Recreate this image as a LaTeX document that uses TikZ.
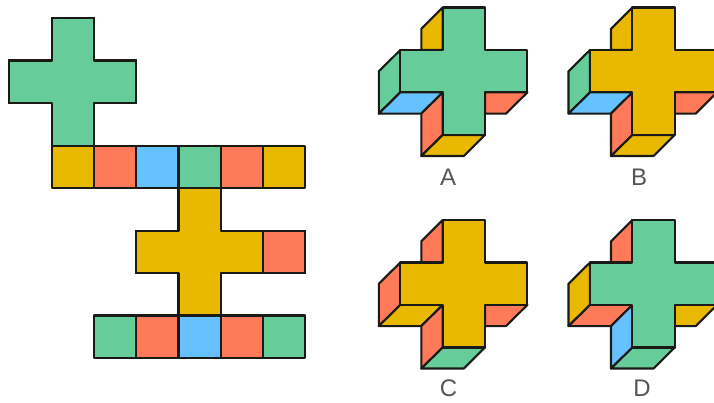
\documentclass[tikz,border=0pt]{standalone}
\usepackage{fontspec}
\setmainfont{Liberation Sans}
\definecolor{cgreen}{HTML}{66CC99}
\definecolor{cred}{HTML}{FF7A59}
\definecolor{cblue}{HTML}{66C2FF}
\definecolor{cyellow}{HTML}{E9B800}
\definecolor{cline}{HTML}{1A1A16}
\definecolor{ctext}{HTML}{555555}
\tikzset{
  face/.style={draw=cline,line width=2.1pt,line join=round,fill=#1},
  optlabel/.style={text=ctext,font=\fontsize{24}{24}\selectfont,inner sep=0pt,anchor=center}
}
% #1 x shift, #2 y shift, #3 front, #4 upper arm side, #5 left side, #6 left under, #7 lower left side, #8 bottom, #9 right under
\newcommand{\crosssolid}[9]{%
  \begin{scope}[shift={(#1,#2)}]
    \path[face=#4] (442.7,7.5) -- (421.3,28.8) -- (421.3,50) -- (442.7,50) -- cycle;
    \path[face=#5] (400.3,50) -- (378.8,71.3) -- (378.8,113.6) -- (400.3,92.4) -- cycle;
    \path[face=#6] (400.3,92.4) -- (442.7,92.4) -- (421.3,113.6) -- (378.8,113.6) -- cycle;
    \path[face=#7] (442.7,92.4) -- (442.7,135) -- (421.3,156) -- (421.3,113.6) -- cycle;
    \path[face=#8] (442.7,135) -- (485,135) -- (463.8,156) -- (421.3,156) -- cycle;
    \path[face=#9] (485,92.4) -- (527.4,92.4) -- (506,113.6) -- (485,113.6) -- cycle;
    \path[face=#3] (442.7,7.5) -- (485,7.5) -- (485,50) -- (527.4,50) -- (527.4,92.4) -- (485,92.4) -- (485,135) -- (442.7,135) -- (442.7,92.4) -- (400.3,92.4) -- (400.3,50) -- (442.7,50) -- cycle;
  \end{scope}}
\newcommand{\cellbox}[3]{\path[face=#3] (#1,#2) rectangle ++(42.25,42.4);}
\begin{document}
\begin{tikzpicture}[x=1pt,y=-1pt]
  \useasboundingbox (0,0) rectangle (714,403);
  \clip (0,0) rectangle (714,403);
  \fill[white] (0,0) rectangle (714,403);
  % net: upper row
  \foreach \x/\c in {51.7/cyellow,93.95/cred,136.2/cblue,178.45/cgreen,220.7/cred,262.95/cyellow}
    \cellbox{\x}{145.6}{\c}
  % net: upper cross
  \path[face=cgreen] (51.7,18) -- (93.95,18) -- (93.95,60.5) -- (136.2,60.5) -- (136.2,103) -- (93.95,103) -- (93.95,145.6) -- (51.7,145.6) -- (51.7,103) -- (9,103) -- (9,60.5) -- (51.7,60.5) -- cycle;
  % net: lower row
  \foreach \x/\c in {93.95/cgreen,136.2/cred,178.45/cblue,220.7/cred,262.95/cgreen}
    \cellbox{\x}{315.5}{\c}
  % net: lower cross and its square
  \cellbox{262.95}{230.7}{cred}
  \path[face=cyellow] (178.45,188) -- (220.7,188) -- (220.7,230.7) -- (262.95,230.7) -- (262.95,273.1) -- (220.7,273.1) -- (220.7,315.5) -- (178.45,315.5) -- (178.45,273.1) -- (136.2,273.1) -- (136.2,230.7) -- (178.45,230.7) -- cycle;
  % options
  \crosssolid{0}{0}{cgreen}{cyellow}{cgreen}{cblue}{cred}{cyellow}{cred}
  \crosssolid{189.7}{0}{cyellow}{cyellow}{cgreen}{cblue}{cred}{cyellow}{cred}
  \crosssolid{0}{212.5}{cyellow}{cred}{cred}{cyellow}{cred}{cgreen}{cred}
  \crosssolid{189.7}{212.5}{cgreen}{cred}{cyellow}{cred}{cblue}{cgreen}{cyellow}
  \node[optlabel] (labA) at (448,177) {A};
  \node[optlabel] (labB) at (639,177) {B};
  \node[optlabel] (labC) at (448.5,388.5) {C};
  \node[optlabel] (labD) at (642,388.5) {D};
\end{tikzpicture}
\end{document}
